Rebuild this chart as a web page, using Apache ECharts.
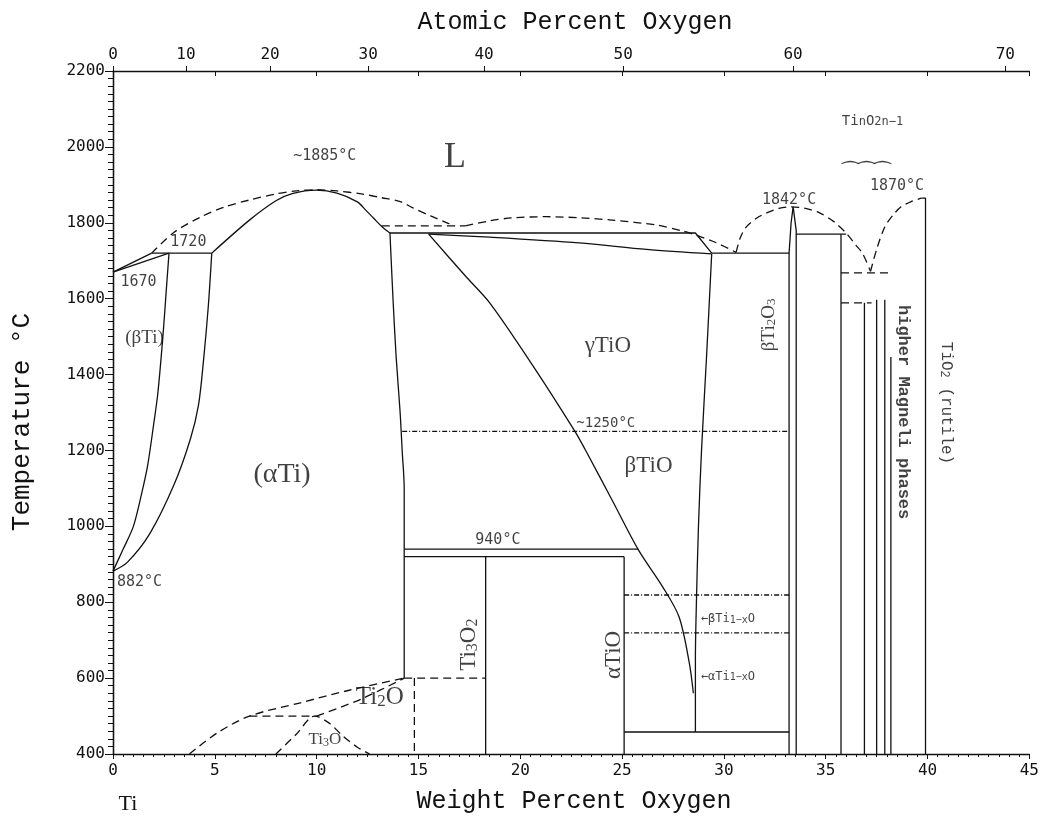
<!DOCTYPE html>
<html>
<head>
<meta charset="utf-8">
<script src="https://cdn.jsdelivr.net/npm/echarts@6/dist/echarts.min.js"></script>
<style>
html,body{margin:0;padding:0;background:#fff;}
#chart{width:1042px;height:816px;}
</style>
</head>
<body>
<div id="chart"></div>
<script>
// ---------- axis data ----------
const weightTicks = [0, 5, 10, 15, 20, 25, 30, 35, 40, 45];
const temperatureTicks = [400, 600, 800, 1000, 1200, 1400, 1600, 1800, 2000, 2200];
const atomicTickLabels = [0, 10, 20, 30, 40, 50, 60, 70];
const M_TI = 47.867, M_O = 15.999;

// ---------- phase boundaries (wt% O, °C) ----------
const betaTransus = [[0,882],[0.5,940],[1.0,1000],[1.4,1085],[1.7,1160],[2.0,1270],[2.2,1350],[2.45,1500],[2.6,1610],[2.75,1720]];
const alphaBoundary = [[0,882],[0.7,905],[1.8,980],[3.0,1110],[3.8,1230],[4.2,1320],[4.45,1440],[4.68,1580],[4.85,1720]];
const tiLiquidusStart = [[0,1670],[1.9,1720]];
const tiSolidusStart = [[0,1670],[2.75,1720]];
const peritectic1720 = [[1.9,1720],[4.85,1720]];
const alphaTiSolidus = [[4.85,1720],[6.7,1807],[8.0,1858],[8.8,1877],[10.0,1886],[11.0,1878],[12.0,1855],[12.4,1834],[12.8,1812],[13.2,1790],[13.6,1773]];
const liquidusDashed = [[1.9,1720],[3.0,1775],[4.3,1815],[5.5,1842],[6.7,1860],[8.0,1876],[9.0,1884],[10.0,1887],[11.0,1884],[12.2,1876],[13.2,1866],[14.1,1856],[14.7,1840],[15.6,1818],[16.4,1800],[16.8,1792]];
const flat1792 = [[13.2,1792],[17.3,1792]];
const tioLiquidus = [[17.3,1792],[18.5,1805],[19.6,1813],[21.3,1816],[23.0,1813],[24.5,1807],[26.7,1794],[28.0,1778],[28.6,1768],[29.6,1748],[30.6,1722]];
const ti2o3Liquidus = [[30.6,1722],[30.8,1760],[31.1,1789],[31.6,1812],[32.1,1826],[32.7,1838],[33.3,1842],[34.0,1838],[34.7,1826],[35.4,1803],[36.0,1773],[36.5,1740],[36.8,1720],[37.2,1672]];
const tio2Liquidus = [[37.2,1672],[37.5,1730],[37.9,1789],[38.3,1820],[38.7,1842],[39.2,1856],[39.7,1865]];
const alphaTiRight = [[13.6,1773],[13.75,1600],[13.9,1450],[14.1,1300],[14.2,1200],[14.3,1100],[14.3,940],[14.3,600]];
const gammaUpper = [[13.6,1773],[28.6,1773],[29.4,1720]];
const gammaLower = [[15.5,1770],[18.5,1762],[22.9,1747],[26.2,1730],[29.4,1718]];
const gammaLeft = [[15.5,1770],[17.35,1657],[18.5,1589],[20.6,1425],[22.7,1249],[23.2,1201],[24.5,1070],[25.8,938],[27.0,840],[27.8,761],[28.3,640],[28.5,560]];
const gammaRight = [[29.4,1718],[29.15,1450],[28.9,1200],[28.75,1000],[28.65,800],[28.6,650],[28.6,458]];
const eutectic1720 = [[29.4,1720],[33.2,1720]];
const trans1250 = [[14.2,1250],[33.2,1250]];
const line940 = [[14.3,940],[25.8,940]];
const line920 = [[14.3,920],[25.1,920]];
const ti3o2Line = [[18.3,920],[18.3,400]];
const alphaTiOLeft = [[25.1,920],[25.1,400]];
const dashed600 = [[14.3,600],[18.3,600]];
const ti2oRight = [[14.8,600],[14.8,400]];
const line458 = [[25.1,458],[33.2,458]];
const trans819 = [[25.1,819],[33.2,819]];
const trans719 = [[25.1,719],[33.2,719]];
const ti2o3Left = [[33.2,400],[33.2,1720],[33.3,1800],[33.4,1842]];
const ti2o3Right = [[33.4,1842],[33.55,1780],[33.55,400]];
const line1770 = [[33.55,1770],[36.0,1770]];
const magneli1 = [[35.75,1770],[35.75,400]];
const dashed1668 = [[35.75,1668],[38.2,1668]];
const dashed1589 = [[35.75,1589],[37.25,1589]];
const magneli2 = [[36.9,1589],[36.9,400]];
const magneli3 = [[37.5,1597],[37.5,400]];
const magneli4 = [[37.9,1597],[37.9,400]];
const magneli5 = [[38.2,1446],[38.2,400]];
const rutile = [[39.7,1865],[39.9,1865],[39.9,400]];
const lowDashedA = [[3.75,400],[5.1,455],[6.7,500],[9.2,535],[11.6,568],[14.3,600]];
const lowDashed500 = [[6.7,500],[10.0,500]];
const lowDashedB = [[10.0,500],[12.2,545],[14.3,600]];
const ti3oDome = [[8.0,400],[9.0,452],[9.9,500],[10.6,482],[11.3,447],[12.0,418],[12.6,400]];

// ---------- annotations: text, wt%, °C, style key ----------
const annotations = [
  ['~1885°C', 10.4, 1975, 'num'],
  ['L', 16.8, 1973, 'serifL'],
  ['1720', 3.7, 1749, 'num'],
  ['1670', 1.25, 1643, 'num'],
  ['(βTi)', 1.55, 1496, 'serifS'],
  ['(αTi)', 8.3, 1135, 'serifXL'],
  ['882°C', 1.3, 852, 'num'],
  ['γTiO', 24.3, 1475, 'serifM'],
  ['~1250°C', 24.2, 1272, 'numS'],
  ['βTiO', 26.3, 1159, 'serifM'],
  ['940°C', 18.9, 964, 'num'],
  ['Ti{s|2}O', 13.1, 550, 'serifSub'],
  ['Ti{t|3}O', 10.4, 437, 'serifSmall'],
  ['Ti{s|3}O{s|2}', 17.5, 688, 'serifRot'],
  ['αTiO', 24.6, 661, 'serifRot'],
  ['βTi{t|2}O{t|3}', 32.2, 1531, 'serifRotS'],
  ['1842°C', 33.2, 1860, 'num'],
  ['1870°C', 38.5, 1897, 'num'],
  ['Ti{t|n}O{t|2n−1}', 37.3, 2068, 'monoSub'],
  ['⁀⁀⁀', 37.0, 1928, 'brace'],
  ['higher Magneli phases', 38.8, 1301, 'monoRot'],
  ['TiO{t|2} (rutile)', 40.9, 1325, 'monoRotS'],
  ['←βTi{t|1−x}O', 30.2, 756, 'tiny'],
  ['←αTi{t|1−x}O', 30.2, 604, 'tiny']
];

const MONO = 'DejaVu Sans Mono';
const TYPE = 'Liberation Mono';
const SERIF = 'Liberation Serif';
const INK = '#111';

const labelStyles = {
  num: {fontFamily: MONO, fontSize: 15},
  numS: {fontFamily: MONO, fontSize: 14},
  serifL: {fontFamily: SERIF, fontSize: 36},
  serifS: {fontFamily: SERIF, fontSize: 19},
  serifXL: {fontFamily: SERIF, fontSize: 28},
  serifM: {fontFamily: SERIF, fontSize: 23},
  serifSub: {fontFamily: SERIF, fontSize: 25, rich: {s: {fontFamily: SERIF, fontSize: 17, lineHeight: 17, verticalAlign: 'bottom'}}},
  serifSmall: {fontFamily: SERIF, fontSize: 17, rich: {t: {fontFamily: SERIF, fontSize: 12, lineHeight: 12, verticalAlign: 'bottom'}}},
  serifRot: {fontFamily: SERIF, fontSize: 23, rotate: 90, rich: {s: {fontFamily: SERIF, fontSize: 16, lineHeight: 16, verticalAlign: 'bottom'}}},
  serifRotS: {fontFamily: SERIF, fontSize: 19, rotate: 90, rich: {t: {fontFamily: SERIF, fontSize: 13, lineHeight: 13, verticalAlign: 'bottom'}}},
  monoSub: {fontFamily: MONO, fontSize: 14, rich: {t: {fontFamily: MONO, fontSize: 12, lineHeight: 12, verticalAlign: 'bottom'}}},
  brace: {fontFamily: 'DejaVu Sans', fontSize: 20},
  monoRot: {fontFamily: TYPE, fontSize: 17, fontWeight: 'bold', rotate: -90},
  monoRotS: {fontFamily: TYPE, fontSize: 16, rotate: -90, rich: {t: {fontFamily: TYPE, fontSize: 12, lineHeight: 12, verticalAlign: 'bottom'}}},
  tiny: {fontFamily: MONO, fontSize: 12, rich: {t: {fontFamily: MONO, fontSize: 10, lineHeight: 10, verticalAlign: 'bottom'}}}
};

// ---------- line styles ----------
const SOLID = 'solid';
const DASH = [8, 5];
const DASHDOT = [5, 2, 1, 2];
const CURVE = true, STRAIGHT = false;

const boundaryDefs = [
  [betaTransus, SOLID, CURVE], [alphaBoundary, SOLID, CURVE], [tiLiquidusStart, SOLID, STRAIGHT], [tiSolidusStart, SOLID, STRAIGHT],
  [peritectic1720, SOLID, STRAIGHT], [alphaTiSolidus, SOLID, CURVE], [liquidusDashed, DASH, CURVE], [flat1792, DASH, STRAIGHT],
  [tioLiquidus, DASH, CURVE], [ti2o3Liquidus, DASH, CURVE], [tio2Liquidus, DASH, CURVE], [alphaTiRight, SOLID, CURVE],
  [gammaUpper, SOLID, STRAIGHT], [gammaLower, SOLID, CURVE], [gammaLeft, SOLID, CURVE], [gammaRight, SOLID, CURVE],
  [eutectic1720, SOLID, STRAIGHT], [trans1250, DASHDOT, STRAIGHT], [line940, SOLID, STRAIGHT], [line920, SOLID, STRAIGHT],
  [ti3o2Line, SOLID, STRAIGHT], [alphaTiOLeft, SOLID, STRAIGHT], [dashed600, DASH, STRAIGHT], [ti2oRight, DASH, STRAIGHT],
  [line458, SOLID, STRAIGHT], [trans819, DASHDOT, STRAIGHT], [trans719, DASHDOT, STRAIGHT], [ti2o3Left, SOLID, STRAIGHT],
  [ti2o3Right, SOLID, STRAIGHT], [line1770, SOLID, STRAIGHT], [magneli1, SOLID, STRAIGHT], [dashed1668, DASH, STRAIGHT],
  [dashed1589, DASH, STRAIGHT], [magneli2, SOLID, STRAIGHT], [magneli3, SOLID, STRAIGHT], [magneli4, SOLID, STRAIGHT],
  [magneli5, SOLID, STRAIGHT], [rutile, SOLID, STRAIGHT], [lowDashedA, DASH, CURVE], [lowDashed500, DASH, STRAIGHT],
  [lowDashedB, DASH, CURVE], [ti3oDome, DASH, CURVE]
];

function atomicToWeight(a) {
  return 100 * a * M_O / (a * M_O + (100 - a) * M_TI);
}
const atomicPositions = atomicTickLabels.map(atomicToWeight);

const series = boundaryDefs.map(([data, type, curve]) => ({
  type: 'line',
  data: data,
  showSymbol: false,
  symbol: 'none',
  smooth: curve ? 0.3 : false,
  silent: true,
  animation: false,
  lineStyle: {color: INK, width: 1.3, type: type}
}));

series.push({
  type: 'scatter',
  symbolSize: 0,
  silent: true,
  animation: false,
  itemStyle: {color: 'transparent'},
  data: annotations.map(([text, x, y, key]) => ({
    value: [x, y],
    label: Object.assign({show: true, position: 'inside', formatter: text, color: INK}, labelStyles[key])
  }))
});

const chart = echarts.init(document.getElementById('chart'), null, {renderer: 'canvas'});
const axisLineStyle = {color: INK, width: 1.3};
const plain = v => String(v);
chart.setOption({
  backgroundColor: '#fff',
  animation: false,
  grid: {left: 113, right: 11, top: 71, bottom: 62},
  xAxis: [
    {
      type: 'value', position: 'bottom', min: weightTicks[0], max: weightTicks[weightTicks.length - 1], interval: 5,
      axisLine: {lineStyle: axisLineStyle},
      axisTick: {inside: false, length: 5, lineStyle: {color: INK}},
      minorTick: {show: true, splitNumber: 10, length: 3, lineStyle: {color: INK}},
      axisLabel: {color: INK, fontFamily: MONO, fontSize: 16, margin: 9, formatter: plain},
      splitLine: {show: false}
    },
    {
      type: 'value', position: 'top', min: 0, max: 45,
      axisLine: {lineStyle: axisLineStyle},
      axisTick: {inside: false, length: 5, customValues: atomicPositions, lineStyle: {color: INK}},
      axisLabel: {
        color: INK, fontFamily: MONO, fontSize: 16, margin: 8, customValues: atomicPositions,
        formatter: function (v) {
          let best = 0, bd = 1e9;
          atomicPositions.forEach((p, i) => { const d = Math.abs(p - v); if (d < bd) { bd = d; best = i; } });
          return String(atomicTickLabels[best]);
        }
      },
      splitLine: {show: false}
    },
    {
      type: 'value', position: 'top', min: 0, max: 45, interval: 5,
      axisLine: {show: false},
      axisTick: {inside: true, length: 5, lineStyle: {color: INK}},
      axisLabel: {show: false},
      splitLine: {show: false}
    }
  ],
  yAxis: [
    {
      type: 'value', position: 'left', min: temperatureTicks[0], max: temperatureTicks[temperatureTicks.length - 1], interval: 200,
      axisLine: {show: true, lineStyle: axisLineStyle},
      axisTick: {show: true, inside: false, length: 6, lineStyle: {color: INK}},
      minorTick: {show: true, splitNumber: 10, length: 3, lineStyle: {color: INK}},
      axisLabel: {color: INK, fontFamily: MONO, fontSize: 16, margin: 8, formatter: plain},
      splitLine: {show: false}
    },
    {
      type: 'value', position: 'right', min: 400, max: 2200, interval: 200,
      axisLine: {show: true, lineStyle: axisLineStyle},
      axisTick: {show: true, inside: true, length: 8, lineStyle: {color: INK}},
      minorTick: {show: true, splitNumber: 10, length: 5, lineStyle: {color: INK}},
      axisLabel: {show: false},
      splitLine: {show: false}
    }
  ],
  graphic: [
    {type: 'text', x: 575, y: 22, silent: true,
     style: {text: 'Atomic Percent Oxygen', font: '25px "Liberation Mono"', fill: INK, textAlign: 'center', textVerticalAlign: 'middle'}},
    {type: 'text', x: 574, y: 801, silent: true,
     style: {text: 'Weight Percent Oxygen', font: '25px "Liberation Mono"', fill: INK, textAlign: 'center', textVerticalAlign: 'middle'}},
    {type: 'text', x: 22, y: 422, rotation: Math.PI / 2, silent: true,
     style: {text: 'Temperature °C', font: '26px "Liberation Mono"', fill: INK, textAlign: 'center', textVerticalAlign: 'middle'}},
    {type: 'text', x: 128, y: 804, silent: true,
     style: {text: 'Ti', font: '22px "Liberation Serif"', fill: INK, textAlign: 'center', textVerticalAlign: 'middle'}}
  ],
  series: series
});
</script>
</body>
</html>
